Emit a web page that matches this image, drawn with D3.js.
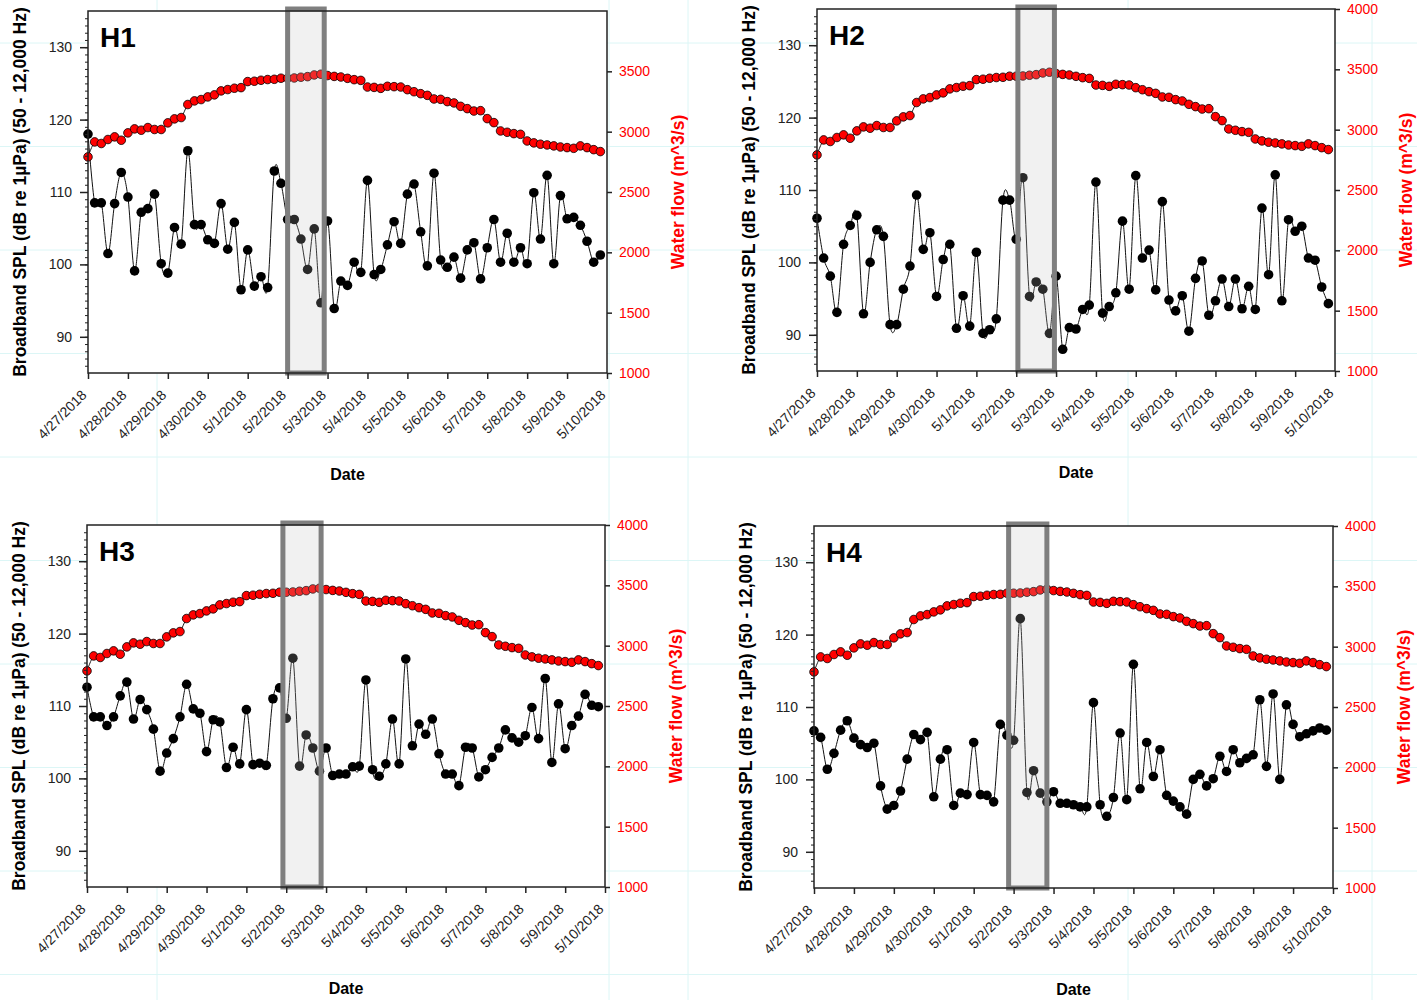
<!DOCTYPE html>
<html lang="en">
<head>
<meta charset="UTF-8">
<title>Broadband SPL and water flow, H1-H4</title>
<script src="https://cdn.jsdelivr.net/npm/d3@7"></script>
<style>
  body { margin: 0; background: #fff; font-family: "Liberation Sans", Arial, sans-serif; }
  svg { display: block; }
</style>
</head>
<body>
<svg width="1417" height="1000"></svg>
<script>
// ---- data (4-hour samples from 4/27/2018 00:00) ----
const startDate = new Date(2018, 3, 27);
const endDate = new Date(2018, 4, 10);
const stepHours = 4;

const flow = [2791, 2915, 2902, 2935, 2957, 2929, 2990, 3023, 3012, 3034, 3018, 3018, 3073, 3106, 3117,
  3225, 3255, 3266, 3288, 3305, 3338, 3349, 3360, 3365, 3415, 3418, 3426, 3432, 3434, 3443, 3443, 3445,
  3451, 3456, 3470, 3476, 3465, 3458, 3453, 3442, 3431, 3425, 3370, 3367, 3359, 3376, 3373, 3370, 3348,
  3331, 3315, 3301, 3271, 3268, 3249, 3238, 3210, 3191, 3171, 3174, 3108, 3075, 3006, 2995, 2984, 2978,
  2923, 2907, 2896, 2890, 2882, 2873, 2868, 2862, 2882, 2868, 2851, 2835];

const splH1 = [118.0, 108.5, 108.5, 101.5, 108.4, 112.7, 109.3, 99.1, 107.2, 107.7, 109.7, 100.1, 98.8,
  105.1, 102.8, 115.7, 105.5, 105.5, 103.4, 102.9, 108.4, 102.1, 105.8, 96.5, 102.0, 97.0, 98.3, 96.8,
  112.9, 111.2, 106.2, 106.2, 103.5, 99.3, 104.9, 94.7, 106.0, 93.9, 97.7, 97.1, 100.3, 98.9, 111.6, 98.6,
  99.3, 102.7, 105.9, 102.9, 109.7, 111.1, 104.5, 99.8, 112.6, 100.6, 99.6, 101.0, 98.1, 102.0, 103.0,
  98.0, 102.3, 106.2, 100.3, 104.3, 100.3, 102.3, 100.1, 109.9, 103.5, 112.3, 100.1, 109.5, 106.3, 106.5,
  105.4, 103.2, 100.3, 101.3];

const splH2 = [106.1, 100.6, 98.1, 93.1, 102.5, 105.1, 106.5, 92.9, 100.0, 104.5, 103.6, 91.4, 91.4, 96.3,
  99.5, 109.3, 101.8, 104.1, 95.3, 100.4, 102.5, 90.9, 95.4, 91.2, 101.4, 90.2, 90.7, 92.2, 108.6, 108.6,
  103.2, 111.7, 95.3, 97.3, 96.3, 90.2, 98.1, 88.0, 91.0, 90.8, 93.5, 94.1, 111.1, 93.0, 93.9, 95.8, 105.7,
  96.3, 112.0, 100.6, 101.7, 96.2, 108.4, 94.8, 93.3, 95.4, 90.5, 97.8, 100.2, 92.7, 94.7, 97.7, 93.9,
  97.7, 93.6, 96.7, 93.5, 107.5, 98.3, 112.1, 94.7, 105.9, 104.3, 105.0, 100.6, 100.3, 96.6, 94.3];

const splH3 = [112.6, 108.5, 108.5, 107.3, 108.5, 111.4, 113.3, 108.2, 110.9, 109.5, 106.8, 101.0, 103.5,
  105.5, 108.5, 113.0, 109.6, 109.0, 103.7, 108.1, 107.8, 101.5, 104.3, 102.0, 109.5, 101.9, 102.1, 101.8,
  111.0, 112.5, 108.3, 116.6, 101.7, 106.0, 104.2, 101.0, 104.2, 100.4, 100.6, 100.6, 101.6, 101.7, 113.6,
  101.2, 100.3, 102.0, 108.2, 102.0, 116.5, 104.5, 107.5, 106.1, 108.2, 103.4, 100.6, 100.6, 99.0, 104.3,
  104.2, 100.2, 101.2, 102.9, 104.2, 106.7, 105.6, 105.0, 105.9, 109.8, 105.5, 113.8, 102.2, 110.3, 104.1,
  107.3, 108.6, 111.6, 110.1, 109.9];

const splH4 = [106.7, 105.8, 101.4, 103.6, 106.8, 108.1, 105.7, 104.8, 104.4, 105.0, 99.1, 95.9, 96.4,
  98.4, 102.8, 106.2, 105.5, 106.5, 97.6, 102.8, 104.1, 96.4, 98.1, 97.9, 105.1, 97.9, 97.8, 96.9, 107.6,
  106.1, 105.4, 122.2, 98.2, 101.2, 98.1, 96.9, 98.3, 96.7, 96.7, 96.5, 96.2, 96.2, 110.6, 96.5, 94.9,
  97.5, 106.4, 97.2, 115.9, 98.7, 105.1, 100.4, 104.1, 97.8, 97.0, 96.2, 95.2, 100.0, 100.7, 99.1, 100.1,
  103.2, 101.1, 104.1, 102.3, 102.9, 103.4, 111.0, 101.8, 111.8, 100.0, 110.3, 107.6, 105.9, 106.3, 106.7,
  107.1, 106.8];

// highlighted window, in days after 4/27/2018
const boxWindows = [[5.0, 5.95], [5.05, 5.98], [4.95, 5.9], [4.89, 5.84]];

const splTicks = [90, 100, 110, 120, 130];
const flowTicks = [1000, 1500, 2000, 2500, 3000, 3500, 4000];

// ---- layout ----
const panels = [
  { name: 'H1', spl: splH1, box: boxWindows[0], left: 88, right: 607, top: 11, bottom: 373, top4000: false },
  { name: 'H2', spl: splH2, box: boxWindows[1], left: 817, right: 1335, top: 9, bottom: 371, top4000: true },
  { name: 'H3', spl: splH3, box: boxWindows[2], left: 87, right: 605, top: 525, bottom: 887, top4000: true },
  { name: 'H4', spl: splH4, box: boxWindows[3], left: 814, right: 1333, top: 526, bottom: 888, top4000: true }
];

const svg = d3.select('svg');
const font = '"Liberation Sans", Arial, sans-serif';
const times = flow.map((d, i) => d3.timeHour.offset(startDate, i * stepHours));

// faint sheet grid in the background
const bg = svg.append('g').attr('stroke', '#dcf6f6').attr('stroke-width', 1);
[43, 146.5, 250, 353.5, 457, 560.5, 664, 767.5, 871, 974.5].forEach(y => {
  bg.append('line').attr('x1', 0).attr('x2', 1417).attr('y1', y).attr('y2', y);
});
[157, 609, 688, 1128, 1372].forEach(x => {
  bg.append('line').attr('x1', x).attr('x2', x).attr('y1', 0).attr('y2', 1000);
});

panels.forEach(p => {
  const g = svg.append('g');

  const x = d3.scaleTime().domain([startDate, endDate]).range([p.left, p.right]);
  const yL = d3.scaleLinear().domain([85, 135]).range([p.bottom, p.top]);
  const yR = d3.scaleLinear().domain([1000, 4000]).range([p.bottom, p.top]);

  g.append('rect')
    .attr('x', p.left).attr('y', p.top)
    .attr('width', p.right - p.left).attr('height', p.bottom - p.top)
    .attr('fill', '#fff');

  // water flow (red)
  const flowLine = d3.line()
    .x((d, i) => x(times[i]))
    .y(d => yR(d))
    .curve(d3.curveCardinal);

  g.append('path')
    .datum(flow)
    .attr('d', flowLine)
    .attr('fill', 'none')
    .attr('stroke', '#222')
    .attr('stroke-width', 1);

  // SPL (black)
  const splLine = d3.line()
    .x((d, i) => x(times[i]))
    .y(d => yL(d))
    .curve(d3.curveCardinal);

  g.append('path')
    .datum(p.spl)
    .attr('d', splLine)
    .attr('fill', 'none')
    .attr('stroke', '#111')
    .attr('stroke-width', 1);

  g.append('g')
    .selectAll('circle')
    .data(p.spl)
    .join('circle')
    .attr('cx', (d, i) => x(times[i]))
    .attr('cy', d => yL(d))
    .attr('r', 4.8)
    .attr('fill', '#000');

  g.append('g')
    .selectAll('circle')
    .data(flow)
    .join('circle')
    .attr('cx', (d, i) => x(times[i]))
    .attr('cy', d => yR(d))
    .attr('r', 4.3)
    .attr('fill', '#ff0000')
    .attr('stroke', '#000')
    .attr('stroke-width', 0.8);

  // highlighted window
  const b0 = d3.timeHour.offset(startDate, p.box[0] * 24);
  const b1 = d3.timeHour.offset(startDate, p.box[1] * 24);
  g.append('rect')
    .attr('x', x(b0)).attr('y', p.top - 2)
    .attr('width', x(b1) - x(b0)).attr('height', p.bottom - p.top + 2)
    .attr('fill', '#bdbdbd').attr('fill-opacity', 0.22)
    .attr('stroke', '#7f7f7f').attr('stroke-width', 5);

  // frame
  g.append('rect')
    .attr('x', p.left).attr('y', p.top)
    .attr('width', p.right - p.left).attr('height', p.bottom - p.top)
    .attr('fill', 'none').attr('stroke', '#222').attr('stroke-width', 1.5);

  // left axis, minor + major
  g.append('g')
    .attr('transform', `translate(${p.left},0)`)
    .call(d3.axisLeft(yL).tickValues(d3.range(86, 135)).tickSize(3).tickFormat(''))
    .call(a => a.select('.domain').remove())
    .call(a => a.selectAll('line').attr('stroke', '#222'));

  g.append('g')
    .attr('transform', `translate(${p.left},0)`)
    .call(d3.axisLeft(yL).tickValues(splTicks).tickSize(8).tickPadding(8))
    .call(a => a.select('.domain').remove())
    .call(a => a.selectAll('line').attr('stroke', '#222').attr('stroke-width', 1.5))
    .call(a => a.selectAll('text').attr('font-family', font).attr('font-size', 14).attr('fill', '#222'));

  // right axis
  g.append('g')
    .attr('transform', `translate(${p.right},0)`)
    .call(d3.axisRight(yR)
      .tickValues(p.top4000 ? flowTicks : flowTicks.slice(0, -1))
      .tickFormat(d3.format('d'))
      .tickSize(5).tickPadding(7))
    .call(a => a.select('.domain').remove())
    .call(a => a.selectAll('line').attr('stroke', '#222').attr('stroke-width', 1.5))
    .call(a => a.selectAll('text').attr('font-family', font).attr('font-size', 14).attr('fill', '#ff0000'));

  // bottom axis
  const xAxis = g.append('g')
    .attr('transform', `translate(0,${p.bottom})`)
    .call(d3.axisBottom(x).ticks(d3.timeDay.every(1)).tickFormat(d3.timeFormat('%-m/%-d/%Y')).tickSize(6))
    .call(a => a.select('.domain').remove())
    .call(a => a.selectAll('line').attr('stroke', '#222').attr('stroke-width', 1.5));

  xAxis.selectAll('text')
    .attr('font-family', font)
    .attr('font-size', 14)
    .attr('fill', '#222')
    .attr('text-anchor', 'end')
    .attr('dy', 0)
    .attr('y', 0)
    .attr('transform', 'translate(-1,23) rotate(-45)');

  // titles
  g.append('text')
    .attr('x', p.left + 12).attr('y', p.top + 36)
    .attr('font-family', font).attr('font-size', 28).attr('font-weight', 'bold')
    .text(p.name);

  g.append('text')
    .attr('x', (p.left + p.right) / 2).attr('y', p.bottom + 107)
    .attr('text-anchor', 'middle')
    .attr('font-family', font).attr('font-size', 16).attr('font-weight', 'bold')
    .text('Date');

  g.append('text')
    .attr('transform', `translate(${p.left - 62},${(p.top + p.bottom) / 2}) rotate(-90)`)
    .attr('text-anchor', 'middle')
    .attr('font-family', font).attr('font-size', 17.5).attr('font-weight', 'bold')
    .text('Broadband SPL (dB re 1µPa) (50 - 12,000 Hz)');

  g.append('text')
    .attr('transform', `translate(${p.right + 77},${(p.top + p.bottom) / 2}) rotate(-90)`)
    .attr('text-anchor', 'middle')
    .attr('font-family', font).attr('font-size', 17.5).attr('font-weight', 'bold')
    .attr('fill', '#ff0000')
    .text('Water flow (m^3/s)');
});
</script>
</body>
</html>
